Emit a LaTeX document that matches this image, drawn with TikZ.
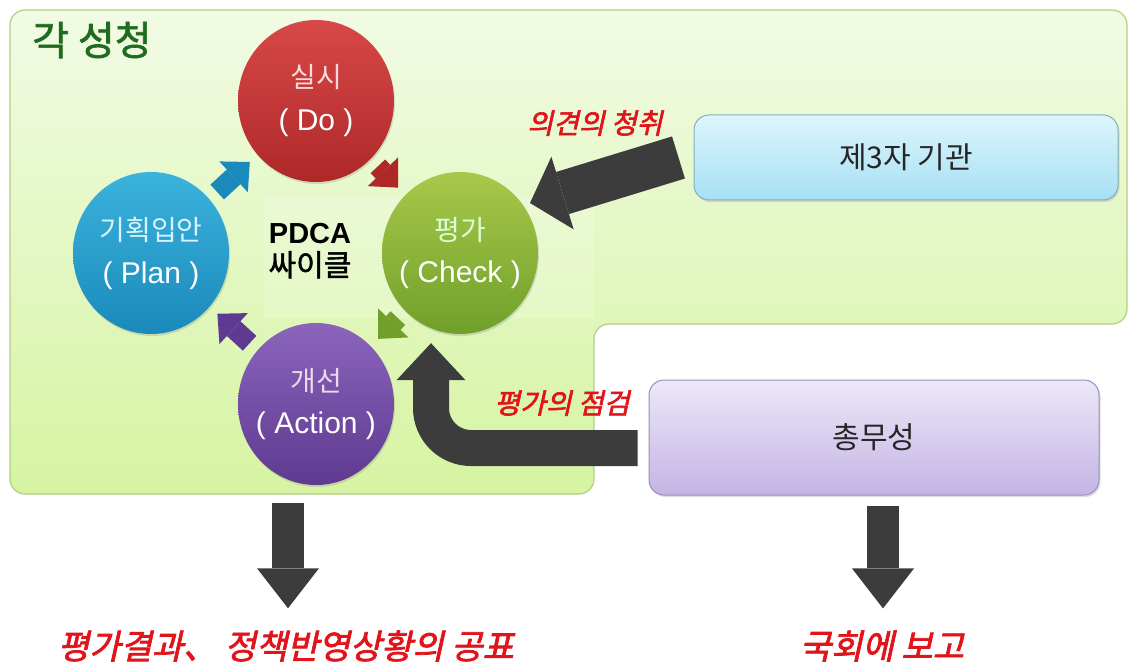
\documentclass[tikz,border=0pt]{standalone}
\usepackage{fontspec}
\setmainfont{Noto Sans CJK KR}
\newfontfamily\kr{Noto Sans CJK KR}
\newfontfamily\krbold[FakeBold=1.6]{Noto Sans CJK KR}
\newfontfamily\krslant[FakeSlant=0.22,FakeBold=2.2]{Noto Sans CJK KR}
\newfontfamily\latin{Liberation Sans}
\usetikzlibrary{shapes.geometric,arrows.meta,calc,shadows}
\newcommand\fsz[1]{\fontsize{#1}{#1}\selectfont}

\definecolor{bgtop}{HTML}{F1FBE4}
\definecolor{bgbot}{HTML}{D6F4A2}
\definecolor{bgedge}{HTML}{B5CC86}
\definecolor{darkarrow}{HTML}{3C3C3C}
\definecolor{notered}{HTML}{E0141A}
\definecolor{titlegreen}{HTML}{1F6B1F}
\definecolor{redtop}{HTML}{D84848}
\definecolor{redbot}{HTML}{AE2828}
\definecolor{bluetop}{HTML}{3CB2DE}
\definecolor{bluebot}{HTML}{1A8ABA}
\definecolor{greentop}{HTML}{A8C84A}
\definecolor{greenbot}{HTML}{70A02A}
\definecolor{purptop}{HTML}{8C64BC}
\definecolor{purpbot}{HTML}{5E3A90}
\definecolor{tptop}{HTML}{DDF5FC}
\definecolor{tpbot}{HTML}{A6E0F4}
\definecolor{tpedge}{HTML}{86AEBC}
\definecolor{gmtop}{HTML}{ECE8F8}
\definecolor{gmbot}{HTML}{C4B4E4}
\definecolor{gmedge}{HTML}{9A8EB6}

\tikzset{
  stage/.style={ellipse, minimum width=156pt, minimum height=162pt,
    inner xsep=-30pt, inner ysep=-20pt,
    align=center, drop shadow={opacity=0.25, shadow xshift=1pt, shadow yshift=-2pt}},
  orgbox/.style={rounded corners=15pt, inner sep=0pt, font=\kr\fsz{30}, text=black!85,
    drop shadow={opacity=0.25, shadow xshift=1.5pt, shadow yshift=-2pt}},
  cyc/.style={line width=20pt, line cap=butt,
    -{Triangle[width=42pt,length=22pt,line width=0pt]},
    shorten <=90pt, shorten >=90pt},
  bigblock/.style={draw=darkarrow, line cap=butt},
  note/.style={font=\krslant\fsz{28}, text=notered, inner sep=0pt},
  result/.style={font=\krslant\fsz{34}, text=notered, inner sep=0pt},
}

\begin{document}
\begin{tikzpicture}[x=1pt, y=-1pt]
\useasboundingbox (0,0) rectangle (1128,666);

% green area of the ministries, with its wide upper band
\draw[bgedge, line width=1.2pt, rounded corners=15pt, top color=bgtop, bottom color=bgbot]
  (300,10) -- (1127,10) -- (1127,324) -- (594,324) -- (594,494) -- (10,494) -- (10,10) -- cycle;
\fill[white, opacity=0.18] (264,197) rectangle (594,318);
\coordinate (agencybottom) at (288,494);

\node[font=\krbold\fsz{40}, text=titlegreen, inner sep=0pt] (title) at (92,40) {각 성청};

% PDCA stages
\node[stage, top color=redtop, bottom color=redbot] (do) at (316,101)
  {{\kr\fsz{28}\color{white!85!red}실시}\\[18pt]{\latin\fsz{30}\color{white}( Do )}};
\node[stage, top color=bluetop, bottom color=bluebot] (plan) at (151,253)
  {{\kr\fsz{28}\color{white!85!cyan}기획입안}\\[18pt]{\latin\fsz{30}\color{white}( Plan )}};
\node[stage, top color=greentop, bottom color=greenbot] (check) at (460,253)
  {{\kr\fsz{28}\color{white!85!green}평가}\\[18pt]{\latin\fsz{30}\color{white}( Check )}};
\node[stage, top color=purptop, bottom color=purpbot] (action) at (316,404)
  {{\kr\fsz{28}\color{white!85!violet}개선}\\[18pt]{\latin\fsz{30}\color{white}( Action )}};

\node[align=center, inner sep=0pt] (pdca) at (310,251)
  {{\latin\bfseries\fsz{29}PDCA}\\[6pt]{\krbold\fsz{30}싸이클}};

% cycle arrows
\draw[cyc, draw=bluebot] (plan.center) -- (do.center);
\draw[cyc, draw=redbot] (do.center) -- (check.center);
\draw[cyc, draw=greenbot] (check.center) -- (action.center);
\draw[cyc, draw=purpbot] (action.center) -- (plan.center);

% outside bodies
\node[orgbox, draw=tpedge, line width=1pt, top color=tptop, bottom color=tpbot,
  minimum width=424pt, minimum height=85pt] (tp) at (906,157.5) {제3자 기관};
\node[orgbox, draw=gmedge, line width=1pt, top color=gmtop, bottom color=gmbot,
  minimum width=450pt, minimum height=115pt] (gm) at (874,437.5) {총무성};

\coordinate (ckin) at ($(check.center)+(70,-50)$);
\draw[bigblock, line width=44pt, -{Triangle[width=76pt,length=34pt,line width=0pt]}]
  ([xshift=-15pt]tp.west) -- (ckin);

\coordinate (gmout) at ($(gm.west)+(-11,10.5)$);
\coordinate (elbowtip) at ($(check.south)+(-29,9)$);
\draw[bigblock, line width=36pt, rounded corners=40pt,
  -{Triangle[width=69pt,length=37pt,line width=0pt]}] (gmout) -| (elbowtip);

\node[note] (hear) at (595,123) {의견의 청취};
\node[note] (inspect) at (562,403) {평가의 점검};

% published results
\node[result] (resL) at (286,646) {평가결과、 정책반영상황의 공표};
\node[result] (resR) at (882,646) {국회에 보고};

\draw[bigblock, line width=32pt, shorten >=22pt,
  -{Triangle[width=62pt,length=40pt,line width=0pt]}]
  ([yshift=-9pt]agencybottom) -- (agencybottom |- resL.north);
\draw[bigblock, line width=32pt, shorten >=22pt,
  -{Triangle[width=62pt,length=40pt,line width=0pt]}]
  ([xshift=9pt,yshift=-10pt]gm.south) -- ([xshift=9pt]gm.south |- resR.north);
\end{tikzpicture}
\end{document}
